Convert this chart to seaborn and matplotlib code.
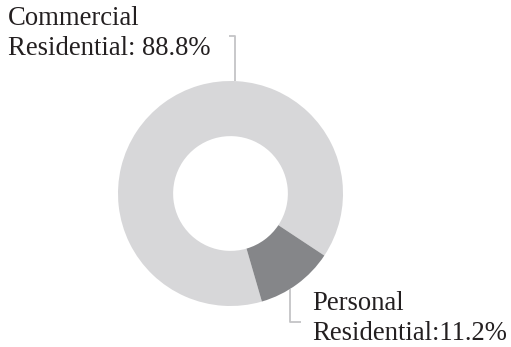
import matplotlib
matplotlib.use("Agg")
import matplotlib.pyplot as plt
import seaborn as sns
import numpy as np

categories = ["Commercial\nResidential: 88.8%", "Personal\nResidential:11.2%"]
values = [88.8, 11.2]
colors = ["#d7d7d9", "#858689"]

sns.set_theme(style="white")
plt.rcParams['font.family'] = ['Liberation Serif', 'DejaVu Serif']

W, H = 511, 347
fig = plt.figure(figsize=(W / 100, H / 100), dpi=100)
ax = fig.add_axes([0, 0, 1, 1])

cx, cy, R = 230.5, H - 193.5, 112.5
wedges, _ = ax.pie(values, colors=colors, startangle=-73.8, counterclock=False,
                   radius=R, center=(cx, cy), frame=True,
                   wedgeprops=dict(width=R * 0.49, linewidth=0))
ax.set_xlim(0, W)
ax.set_ylim(0, H)
ax.set_aspect('equal')
ax.axis('off')

line_c = "#c4c4c6"
fs = 19.2
ls = 1.28
# Commercial leader (top)
ang = np.deg2rad(87.6)
px, py = cx + R * np.cos(ang), cy + R * np.sin(ang)
ax.plot([px, px, px - 6], [py, H - 36, H - 36], color=line_c, lw=1.3, solid_capstyle='butt')
ax.text(8, H - 61, categories[0], ha='left', va='bottom', fontsize=fs,
        color="#231f20", linespacing=ls)

# Personal leader (bottom)
ang = np.deg2rad(-57.8)
px, py = cx + R * np.cos(ang), cy + R * np.sin(ang)
ax.plot([px, px, px + 11], [py, H - 322, H - 322], color=line_c, lw=1.3, solid_capstyle='butt')
ax.text(312, H - 346.5, categories[1], ha='left', va='bottom', fontsize=fs,
        color="#231f20", linespacing=ls)

fig.savefig("out.png", dpi=100)
